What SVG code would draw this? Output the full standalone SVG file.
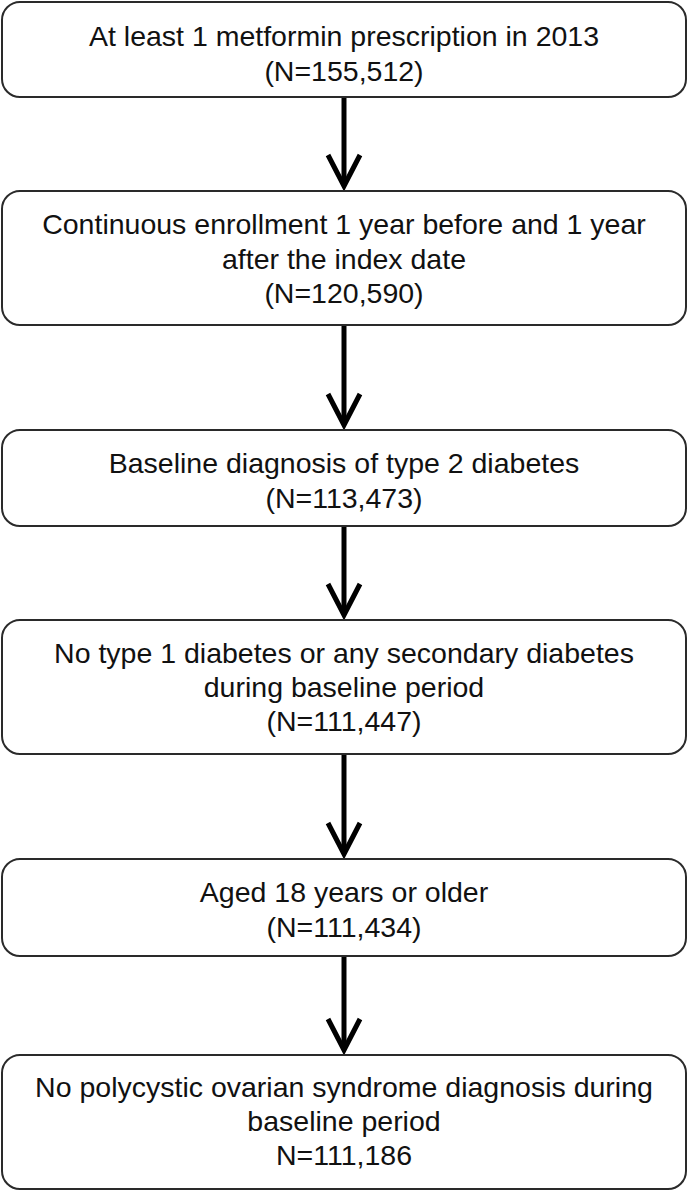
<svg xmlns="http://www.w3.org/2000/svg" width="689" height="1192" viewBox="0 0 689 1192">
<defs>
<style>
.box{fill:#fff;stroke:#2a2a2a;stroke-width:2}
.t{font-family:"Liberation Sans",Arial,sans-serif;font-size:28.5px;fill:#111;text-anchor:middle}
.shaft{stroke:#000;stroke-width:5;fill:none}
.head{stroke:#000;stroke-width:5;fill:none;stroke-linejoin:miter;stroke-miterlimit:6}
</style>
</defs>
<rect width="689" height="1192" fill="#fff"/>
<g id="connectors">
<g id="a1"><line class="shaft" x1="344" y1="97" x2="344" y2="186"/><polyline class="head" points="328,155 344,186 360,155"/></g>
<g id="a2"><line class="shaft" x1="344" y1="325" x2="344" y2="425"/><polyline class="head" points="328,394 344,425 360,394"/></g>
<g id="a3"><line class="shaft" x1="344" y1="526" x2="344" y2="615"/><polyline class="head" points="328,584 344,615 360,584"/></g>
<g id="a4"><line class="shaft" x1="344" y1="754" x2="344" y2="854"/><polyline class="head" points="328,823 344,854 360,823"/></g>
<g id="a5"><line class="shaft" x1="344" y1="956" x2="344" y2="1050"/><polyline class="head" points="328,1019 344,1050 360,1019"/></g>
</g>
<g id="n1"><rect class="box" x="2" y="2" width="684" height="95" rx="18"/>
<text class="t" x="344" y="45.5">At least 1 metformin prescription in 2013</text>
<text class="t" x="344" y="80.5">(N=155,512)</text></g>
<g id="n2"><rect class="box" x="2" y="191" width="684" height="134" rx="18"/>
<text class="t" x="344" y="234">Continuous enrollment 1 year before and 1 year</text>
<text class="t" x="344" y="268.5">after the index date</text>
<text class="t" x="344" y="303">(N=120,590)</text></g>
<g id="n3"><rect class="box" x="2" y="430" width="684" height="96" rx="18"/>
<text class="t" x="344" y="473">Baseline diagnosis of type 2 diabetes</text>
<text class="t" x="344" y="507.5">(N=113,473)</text></g>
<g id="n4"><rect class="box" x="2" y="620" width="684" height="134" rx="18"/>
<text class="t" x="344" y="663">No type 1 diabetes or any secondary diabetes</text>
<text class="t" x="344" y="697">during baseline period</text>
<text class="t" x="344" y="731">(N=111,447)</text></g>
<g id="n5"><rect class="box" x="2" y="859" width="684" height="97" rx="18"/>
<text class="t" x="344" y="902">Aged 18 years or older</text>
<text class="t" x="344" y="936.5">(N=111,434)</text></g>
<g id="n6"><rect class="box" x="2" y="1055" width="684" height="134" rx="18"/>
<text class="t" x="344" y="1097">No polycystic ovarian syndrome diagnosis during</text>
<text class="t" x="344" y="1131">baseline period</text>
<text class="t" x="344" y="1165">N=111,186</text></g>
</svg>
